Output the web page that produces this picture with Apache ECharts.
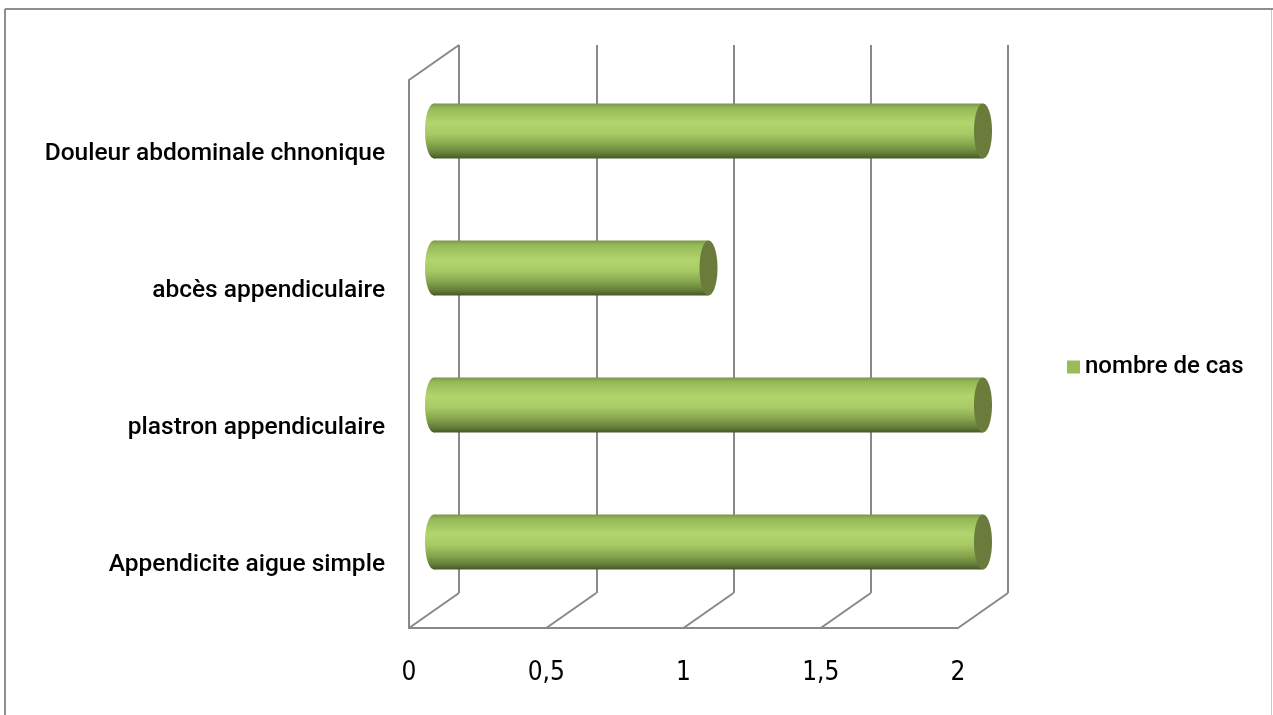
<!DOCTYPE html>
<html>
<head>
<meta charset="utf-8">
<script src="https://cdn.jsdelivr.net/npm/echarts@6/dist/echarts.min.js"></script>
<style>
  html, body { margin: 0; padding: 0; background: #fff; }
  #chart { width: 1273px; height: 715px; }
</style>
</head>
<body>
<div id="chart"></div>
<script>
// Categories listed bottom-up (category axis starts at the bottom)
const categories = [
  'Appendicite aigue simple',
  'plastron appendiculaire',
  'abcès appendiculaire',
  'Douleur abdominale chnonique'
];
const nombreDeCas = [2, 2, 1, 2];
const tickValues = [0, 0.5, 1, 1.5, 2];
const seriesName = 'nombre de cas';

// Depth of the 3D box: back wall is shifted right and up from the front plane
const DEPTH = { x: 50, y: -35 };
const FRONT = { left: 409, top: 80, width: 549, height: 548 };

const LINE = '#888888';
const TEXT_FONT = "Roboto, 'Liberation Sans', Arial, sans-serif";
const NUM_FONT = "'Liberation Sans Narrow', 'DejaVu Sans Condensed', sans-serif";

const chart = echarts.init(document.getElementById('chart'), null, { renderer: 'canvas' });

const bodyGradient = new echarts.graphic.LinearGradient(0, 0, 0, 1, [
  { offset: 0.00, color: '#7a9748' },
  { offset: 0.08, color: '#96b958' },
  { offset: 0.35, color: '#b2d56e' },
  { offset: 0.55, color: '#a8ca65' },
  { offset: 0.75, color: '#87a54e' },
  { offset: 0.90, color: '#65803a' },
  { offset: 1.00, color: '#475828' }
]);

// Cylinder bars drawn at mid-depth of the box
function renderCylinder(params, api) {
  const v = api.value(0);
  const cat = api.value(1);
  const p0 = api.coord([0, cat]);
  const p1 = api.coord([v, cat]);
  const band = api.size([0, 1])[1];
  const ry = band * 0.2;
  const rx = 9;
  const x0 = p0[0] + DEPTH.x / 2;
  const x1 = p1[0] + DEPTH.x / 2;
  const cy = p0[1] + DEPTH.y / 2;
  return {
    type: 'group',
    children: [
      { type: 'ellipse', shape: { cx: x0, cy: cy, rx: rx, ry: ry }, style: { fill: bodyGradient } },
      { type: 'rect', shape: { x: x0, y: cy - ry, width: x1 - x0, height: ry * 2 }, style: { fill: bodyGradient } },
      { type: 'ellipse', shape: { cx: x1, cy: cy, rx: rx, ry: ry }, style: { fill: '#6a7b3b' } }
    ]
  };
}

// Floor diagonals at each tick, plus the top edge of the left wall
function renderFrame(params, api) {
  const v = api.value(0);
  const cs = params.coordSys;
  const x = api.coord([v, 0])[0];
  const bottom = cs.y + cs.height;
  const style = { stroke: LINE, lineWidth: 2 };
  const children = [
    { type: 'line', shape: { x1: x, y1: bottom, x2: x + DEPTH.x, y2: bottom + DEPTH.y }, style: style }
  ];
  if (v === tickValues[0]) {
    children.push({ type: 'line', shape: { x1: x, y1: cs.y, x2: x + DEPTH.x, y2: cs.y + DEPTH.y }, style: style });
  }
  return { type: 'group', children: children };
}

const axisMin = tickValues[0];
const axisMax = tickValues[tickValues.length - 1];
const axisStep = tickValues[1] - tickValues[0];

chart.setOption({
  animation: false,
  backgroundColor: '#ffffff',
  graphic: [
    { type: 'line', shape: { x1: 5, y1: 9, x2: 1273, y2: 9 }, style: { stroke: '#8e8e8e', lineWidth: 2 } },
    { type: 'line', shape: { x1: 5, y1: 9, x2: 5, y2: 715 }, style: { stroke: '#8e8e8e', lineWidth: 2 } },
    { type: 'line', shape: { x1: 1271.5, y1: 10, x2: 1271.5, y2: 715 }, style: { stroke: '#c8c8c8', lineWidth: 1 } }
  ],
  legend: {
    data: [seriesName],
    left: 1062,
    top: 350,
    icon: 'rect',
    itemWidth: 13,
    itemHeight: 13,
    itemGap: 6,
    textStyle: { fontFamily: TEXT_FONT, fontWeight: 500, fontSize: 24, color: '#000' }
  },
  grid: [
    { left: FRONT.left, top: FRONT.top, width: FRONT.width, height: FRONT.height },
    { left: FRONT.left + DEPTH.x, top: FRONT.top + DEPTH.y, width: FRONT.width, height: FRONT.height }
  ],
  xAxis: [
    {
      gridIndex: 0, type: 'value', min: axisMin, max: axisMax, interval: axisStep,
      axisLine: { show: true, lineStyle: { color: LINE, width: 2 } },
      axisTick: { show: false },
      splitLine: { show: false },
      axisLabel: {
        margin: 32,
        fontFamily: NUM_FONT, fontSize: 26, color: '#000',
        formatter: function (v) { return String(v).replace('.', ','); }
      }
    },
    {
      gridIndex: 1, type: 'value', min: axisMin, max: axisMax, interval: axisStep,
      axisLine: { show: false }, axisTick: { show: false }, axisLabel: { show: false },
      splitLine: { show: true, lineStyle: { color: LINE, width: 2 } }
    }
  ],
  yAxis: [
    {
      gridIndex: 0, type: 'category', data: categories,
      axisLine: { show: true, lineStyle: { color: LINE, width: 2 } },
      axisTick: { show: false },
      splitLine: { show: false },
      axisLabel: {
        margin: 24,
        formatter: function (v) { return '{c|' + v + '}'; },
        rich: {
          c: {
            padding: [10, 0, 0, 0],
            fontFamily: TEXT_FONT, fontWeight: 500, fontSize: 24.5, color: '#000'
          }
        }
      }
    },
    {
      gridIndex: 1, type: 'category', data: categories,
      axisLine: { show: false }, axisTick: { show: false }, axisLabel: { show: false },
      splitLine: { show: false }
    }
  ],
  series: [
    {
      name: 'frame',
      type: 'custom',
      xAxisIndex: 0, yAxisIndex: 0,
      renderItem: renderFrame,
      encode: { x: 0, y: 1 },
      data: tickValues.map(function (t) { return [t, 0]; }),
      silent: true,
      z: 1
    },
    {
      name: seriesName,
      type: 'custom',
      xAxisIndex: 0, yAxisIndex: 0,
      renderItem: renderCylinder,
      encode: { x: 0, y: 1 },
      itemStyle: { color: '#9bbb59' },
      data: nombreDeCas.map(function (v, i) { return [v, i]; }),
      z: 3
    }
  ]
});
</script>
</body>
</html>
